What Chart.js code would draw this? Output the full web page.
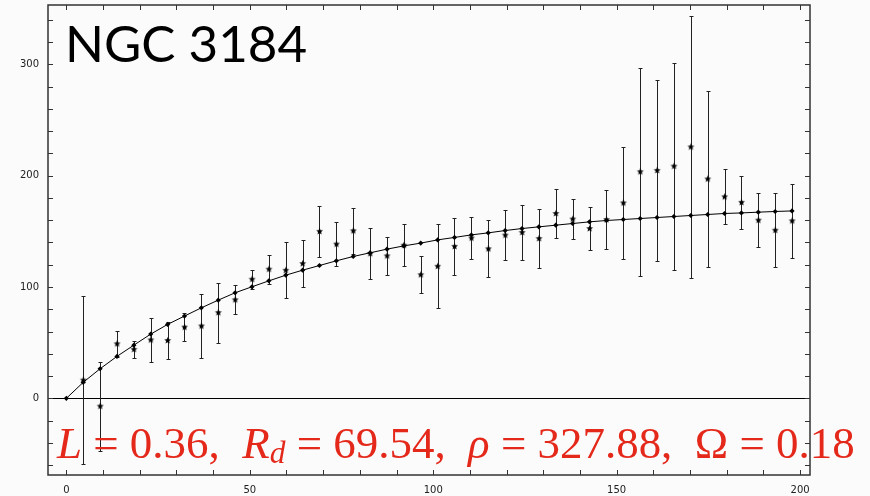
<!DOCTYPE html>
<html>
<head>
<meta charset="utf-8">
<script src="https://cdn.jsdelivr.net/npm/chart.js@4.4.0/dist/chart.umd.min.js"></script>
<style>
html, body { margin: 0; padding: 0; background: #fbfbfb; }
#wrap { width: 870px; height: 496px; }
</style>
</head>
<body>
<div id="wrap"><canvas id="rcChart" width="870" height="496"></canvas></div>
<script>
// radius of each sample
var radius = [0, 4.6, 9.2, 13.8, 18.4, 23.0, 27.6, 32.2, 36.8, 41.4, 46.0, 50.6, 55.2, 59.8, 64.4,
    69.0, 73.6, 78.2, 82.8, 87.4, 92.0, 96.6, 101.2, 105.8, 110.4, 115.0, 119.6, 124.2, 128.8,
    133.4, 138.0, 142.6, 147.2, 151.8, 156.4, 161.0, 165.6, 170.2, 174.8, 179.4, 184.0, 188.6, 193.2, 197.8];

// fitted curve
var model = [0, 14.4, 26.6, 37.7, 47.8, 57.7, 66.4, 73.9, 81.3, 88.2, 94.8, 100.2, 105.5, 110.6, 115.1,
    119.3, 123.5, 127.4, 130.7, 134.0, 136.9, 139.4, 142.3, 144.5, 146.8, 148.6, 150.7, 152.5, 154.0,
    155.5, 157.0, 158.5, 159.7, 160.6, 161.5, 162.4, 163.3, 164.2, 165.1, 166.0, 166.5, 167.2, 167.8, 168.3];

// observed points (stars) and their errors
var obsRadius = radius.slice(1);
var obsVel = [16.4, -7, 49, 44, 52.5, 52, 64, 65, 77, 88.5, 107, 116, 115, 121,
    150, 138.5, 150.5, 130, 128, 137.5, 111, 118.6, 136.5, 144, 134.3, 146.6, 149, 143.5,
    166, 161, 152.5, 160.5, 175.5, 203.5, 204.7, 208.5, 225.8, 197, 181, 176, 160, 151, 159.4];
var obsErr = [75.4, 40, 11.7, 7.6, 19.5, 16.7, 12.7, 29, 27, 13, 8.5, 13, 25, 21,
    23, 20, 20.5, 23, 17, 18.7, 16.5, 37.8, 25.5, 19, 25.7, 22.5, 24.8, 26.3,
    22, 18, 19, 26.6, 50, 93.5, 81.2, 93, 117.5, 79, 24.7, 24, 24.4, 33, 33.2];

var xTickVals = [0, 10, 20, 30, 40, 50, 60, 70, 80, 90, 100, 110, 120, 130, 140, 150, 160, 170, 180, 190, 200];
var yTickVals = [-60, -40, -20, 0, 20, 40, 60, 80, 100, 120, 140, 160, 180, 200, 220, 240, 260, 280, 300, 320, 340];

var title = 'NGC 3184';
// fit parameters line: [text, style]  i = italic, r = roman, s = subscript
var paramText = [
    ['L', 'i'], [' = 0.36,  ', 'r'],
    ['R', 'i'], ['d', 's'], [' = 69.54,  ', 'r'],
    ['\u03C1', 'i'], [' = 327.88,  ', 'r'],
    ['\u03A9', 'r'], [' = 0.18', 'r']
];

function makeStar(r) {
    var c = document.createElement('canvas');
    c.width = c.height = 2 * r + 2;
    var g = c.getContext('2d');
    g.fillStyle = '#000';
    g.beginPath();
    for (var k = 0; k < 10; k++) {
        var ang = -Math.PI / 2 + k * Math.PI / 5;
        var rr = (k % 2) ? r * 0.45 : r;
        g.lineTo(r + 1 + rr * Math.cos(ang), r + 1 + rr * Math.sin(ang));
    }
    g.closePath();
    g.fill();
    return c;
}

var decor = {
    id: 'decor',
    beforeDatasetsDraw: function(chart) {
        var ctx = chart.ctx, xs = chart.scales.x, ys = chart.scales.y;
        ctx.save();
        ctx.strokeStyle = '#222';
        ctx.lineWidth = 1;
        for (var i = 0; i < obsVel.length; i++) {
            var px = Math.round(xs.getPixelForValue(obsRadius[i])) + 0.5;
            var top = Math.round(ys.getPixelForValue(obsVel[i] + obsErr[i])) + 0.5;
            var bot = Math.round(ys.getPixelForValue(obsVel[i] - obsErr[i])) + 0.5;
            ctx.beginPath();
            ctx.moveTo(px, top); ctx.lineTo(px, bot);
            ctx.moveTo(px - 2, top); ctx.lineTo(px + 2, top);
            ctx.moveTo(px - 2, bot); ctx.lineTo(px + 2, bot);
            ctx.stroke();
        }
        ctx.restore();
    },
    afterDraw: function(chart) {
        var ctx = chart.ctx, a = chart.chartArea, xs = chart.scales.x, ys = chart.scales.y;
        ctx.save();
        // frame
        ctx.strokeStyle = '#333';
        ctx.lineWidth = 1.5;
        ctx.strokeRect(a.left, a.top, a.right - a.left, a.bottom - a.top);
        // inward ticks on all four sides
        ctx.lineWidth = 1;
        ctx.beginPath();
        xTickVals.forEach(function(v) {
            var px = Math.round(xs.getPixelForValue(v)) + 0.5;
            ctx.moveTo(px, a.bottom); ctx.lineTo(px, a.bottom - 5);
            ctx.moveTo(px, a.top); ctx.lineTo(px, a.top + 5);
        });
        yTickVals.forEach(function(v) {
            var py = Math.round(ys.getPixelForValue(v)) + 0.5;
            ctx.moveTo(a.left, py); ctx.lineTo(a.left + 5, py);
            ctx.moveTo(a.right, py); ctx.lineTo(a.right - 5, py);
        });
        ctx.stroke();

        // title
        ctx.fillStyle = '#000';
        ctx.textBaseline = 'alphabetic';
        ctx.font = '52px Lato';
        var tw = ctx.measureText(title).width;
        ctx.font = (52 * 242 / tw).toFixed(1) + 'px Lato';
        ctx.fillText(title, 65, 62);

        // parameter line
        var base = 40;
        function fontFor(style, size) {
            if (style === 'i') return 'italic ' + size + 'px "Liberation Serif"';
            if (style === 's') return 'italic ' + (size * 0.7) + 'px "Liberation Serif"';
            return size + 'px "Liberation Serif"';
        }
        var total = 0;
        paramText.forEach(function(p) { ctx.font = fontFor(p[1], base); total += ctx.measureText(p[0]).width; });
        var size = base * 798 / total;
        var x = 57;
        ctx.fillStyle = '#e4281a';
        paramText.forEach(function(p) {
            ctx.font = fontFor(p[1], size);
            ctx.fillText(p[0], x, p[1] === 's' ? 463 : 458);
            x += ctx.measureText(p[0]).width;
        });
        ctx.restore();
    }
};

var ctx = document.getElementById('rcChart').getContext('2d');
var myChart = new Chart(ctx, {
    type: 'scatter',
    data: {
        datasets: [{
            label: 'model',
            data: radius.map(function(r, i) { return { x: r, y: model[i] }; }),
            showLine: true,
            borderColor: '#000',
            backgroundColor: '#000',
            borderWidth: 1,
            pointStyle: 'rectRot',
            pointRadius: 2.6,
            pointBorderWidth: 0
        }, {
            label: 'observed',
            data: obsRadius.map(function(r, i) { return { x: r, y: obsVel[i] }; }),
            pointStyle: makeStar(3.6),
            pointRadius: 3.6
        }]
    },
    options: {
        responsive: false,
        animation: false,
        devicePixelRatio: 1,
        layout: { padding: { top: 5, right: 60, left: 0, bottom: 0 } },
        plugins: { legend: { display: false }, tooltip: { enabled: false } },
        scales: {
            x: {
                type: 'linear',
                min: -5,
                max: 202.7,
                afterBuildTicks: function(s) { s.ticks = xTickVals.map(function(v) { return { value: v }; }); },
                afterFit: function(s) { s.height = 21; s.paddingLeft = 0; s.paddingRight = 0; },
                grid: { display: false, drawTicks: false },
                border: { display: false },
                ticks: {
                    autoSkip: false, maxRotation: 0, padding: 9, color: '#222',
                    font: { family: 'DejaVu Sans', size: 10 },
                    callback: function(v) { return v % 50 === 0 ? String(v) : ''; }
                }
            },
            y: {
                min: -68.8,
                max: 353.2,
                afterBuildTicks: function(s) { s.ticks = yTickVals.map(function(v) { return { value: v }; }); },
                afterFit: function(s) { s.width = 48; s.paddingTop = 0; s.paddingBottom = 0; },
                grid: {
                    drawTicks: false,
                    lineWidth: 1,
                    color: function(c) { return c.tick && c.tick.value === 0 ? '#000' : 'rgba(0,0,0,0)'; }
                },
                border: { display: false },
                ticks: {
                    autoSkip: false, padding: 9, color: '#222',
                    font: { family: 'DejaVu Sans', size: 10 },
                    callback: function(v) { return v % 100 === 0 ? String(v) : ''; }
                }
            }
        }
    },
    plugins: [decor]
});
</script>
</body>
</html>
